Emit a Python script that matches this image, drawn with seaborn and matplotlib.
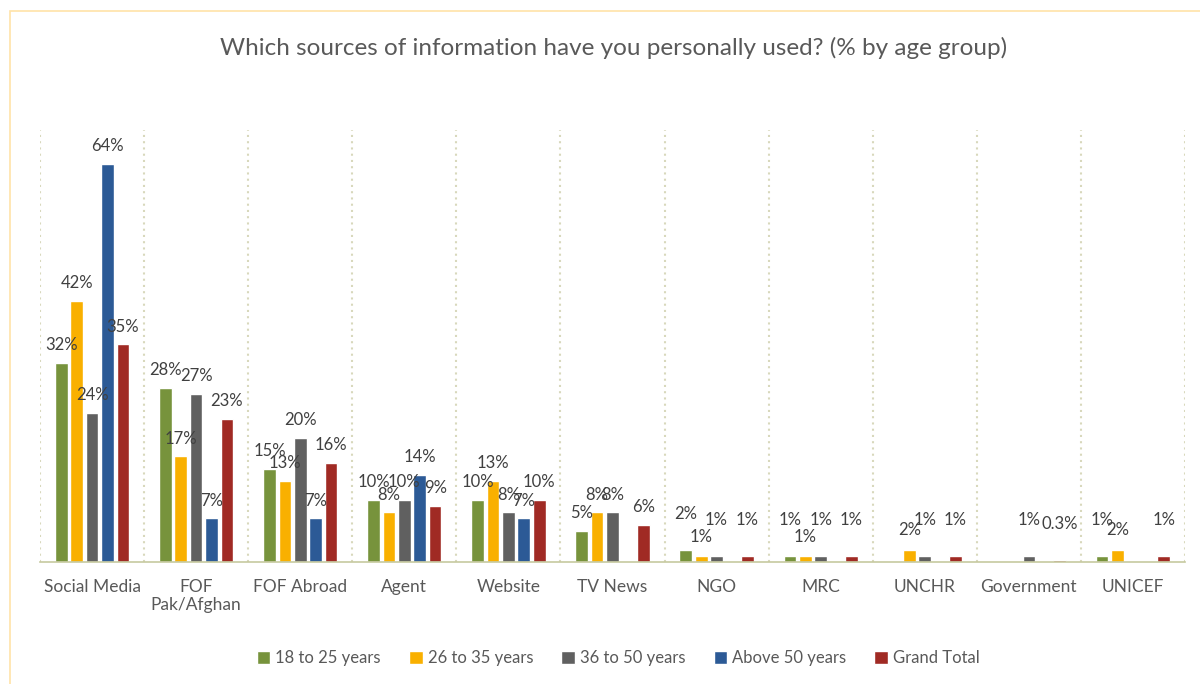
import numpy as np
import pandas as pd
import seaborn as sns
import matplotlib.pyplot as plt
from matplotlib.patches import Rectangle

# categories and series (NaN = no bar in the original)
sources = ['Social Media', 'FOF\nPak/Afghan', 'FOF Abroad', 'Agent', 'Website', 'TV News',
           'NGO', 'MRC', 'UNCHR', 'Government', 'UNICEF']
groups = ['18 to 25 years', '26 to 35 years', '36 to 50 years', 'Above 50 years', 'Grand Total']

age_18_25 = [32, 28, 15, 10, 10, 5, 2, 1, np.nan, np.nan, 1]
age_26_35 = [42, 17, 13, 8, 13, 8, 1, 1, 2, np.nan, 2]
age_36_50 = [24, 27, 20, 10, 8, 8, 1, 1, 1, 1, np.nan]
above_50 = [64, 7, 7, 14, 7, np.nan, np.nan, np.nan, np.nan, np.nan, np.nan]
grand_total = [35, 23, 16, 9, 10, 6, 1, 1, 1, 0.3, 1]

colors = ['#77933C', '#F9B000', '#606060', '#2C5A96', '#A02A24']

df = pd.DataFrame({'Source': sources, groups[0]: age_18_25, groups[1]: age_26_35,
                   groups[2]: age_36_50, groups[3]: above_50, groups[4]: grand_total})
long_df = df.melt(id_vars='Source', var_name='Group', value_name='Pct').dropna()

sns.set_theme(style='white')
plt.rcParams['font.family'] = ['Lato', 'DejaVu Sans']

fig = plt.figure(figsize=(12, 6.84), dpi=100)
ax = fig.add_axes([40 / 1200, 1 - 562 / 684, 1145 / 1200, 432 / 684])

sns.barplot(data=long_df, x='Source', y='Pct', hue='Group', order=sources, hue_order=groups,
            palette=colors, width=0.74, gap=0.18, ax=ax, legend=True, errorbar=None,
            saturation=1)

# data labels; small neighbouring labels are staggered like in the original
for i, cont in enumerate(ax.containers):
    for bar, v in zip(cont, cont.datavalues):
        lift = 7
        if v < 3:
            lift = 20 if i % 2 == 0 else 8
        ax.annotate(f'{v:g}%', (bar.get_x() + bar.get_width() / 2, v),
                    xytext=(0, lift), textcoords='offset points', ha='center', va='bottom',
                    fontsize=12, color='#404040')

ax.set_xlim(-0.5, len(sources) - 0.5)
ax.set_ylim(0, 69.5)
ax.set_yticks([])
ax.set_xlabel('')
ax.set_ylabel('')
ax.tick_params(axis='x', labelsize=12.5, labelcolor='#595959', length=0, pad=12)

# dotted separators between categories
ax.set_xticks(np.arange(-0.5, len(sources)), minor=True)
ax.grid(which='minor', axis='x', linestyle=(0, (1, 2)), color='#D8D8BC', linewidth=1.5)
ax.tick_params(which='minor', length=0)

for side in ['top', 'right', 'left']:
    ax.spines[side].set_visible(False)
ax.spines['bottom'].set_color('#C6C9A0')
ax.spines['bottom'].set_linewidth(1.2)

ax.legend(loc='upper center', bbox_to_anchor=(0.505, -0.17), ncol=5, frameon=False,
          fontsize=12, handlelength=0.8, handleheight=0.8, handletextpad=0.3,
          columnspacing=1.7, labelcolor='#595959')

fig.text(0.511, 1 - 48 / 684, 'Which sources of information have you personally used? (% by age group)',
         ha='center', va='center', fontsize=17.5, color='#595959')

# light outer chart border (cropped on the right/bottom)
fig.patches.append(Rectangle((10 / 1200, -0.1), 1.2, 1 - 11 / 684 + 0.1, transform=fig.transFigure,
                             fill=False, edgecolor='#FFE3A8', linewidth=1.2))

plt.savefig('out.png', dpi=100)
plt.close()
